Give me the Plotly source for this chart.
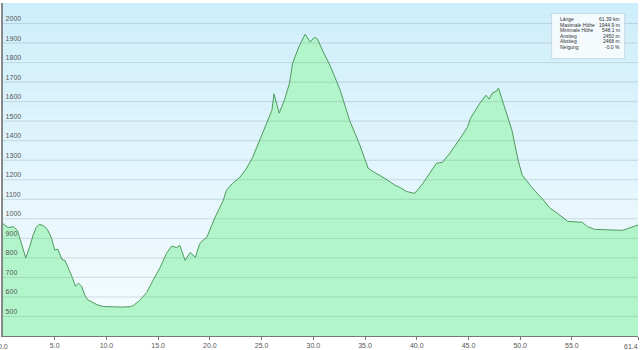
import plotly.graph_objects as go

# distance (km) and elevation (m)
km = [0.0, 0.5, 1.0, 1.4, 1.8, 2.2, 2.6, 2.9, 3.2, 3.5, 3.9, 4.3, 4.7, 5.0, 5.3, 5.7, 6.0, 6.4, 6.7,
      7.0, 7.3, 7.6, 7.9, 8.2, 8.6, 9.1, 9.7, 10.5, 11.5, 12.3, 12.6, 13.2, 13.9, 14.5, 15.2, 15.8,
      16.3, 16.8, 17.1, 17.6, 18.1, 18.6, 19.0, 19.3, 19.7, 20.5, 21.3, 21.6, 22.2, 22.9, 23.5, 24.1,
      24.8, 25.5, 26.0, 26.2, 26.7, 27.2, 27.7, 28.0, 28.6, 29.2, 29.7, 30.1, 30.4, 31.0, 31.6, 32.6,
      33.5, 34.5, 35.3, 35.9, 36.4, 36.9, 37.9, 38.4, 39.0, 39.6, 39.8, 40.6, 41.3, 41.9, 42.5, 43.2,
      44.4, 44.9, 45.2, 46.1, 46.7, 47.0, 47.3, 47.7, 47.9, 48.5, 49.2, 49.8, 50.2, 50.6, 51.2, 52.1,
      52.9, 53.6, 54.6, 56.0, 56.5, 57.2, 59.9, 61.39]
elev = [975, 955, 960, 940, 870, 800, 860, 915, 955, 972, 965, 945, 900, 840, 845, 792, 787, 740, 700,
        655, 670, 655, 610, 585, 572, 560, 551, 549, 548, 550, 556, 582, 623, 685, 752, 823,
        860, 853, 864, 787, 828, 803, 870, 889, 905, 1008, 1095, 1146, 1182, 1213, 1255, 1310,
        1402, 1495, 1556, 1640, 1541, 1607, 1695, 1797, 1880, 1945, 1905, 1930, 1920, 1850, 1787, 1659,
        1505, 1377, 1259, 1238, 1223, 1208, 1172, 1160, 1140, 1130, 1130, 1182, 1240, 1284, 1290, 1336,
        1428, 1469, 1515, 1592, 1633, 1613, 1643, 1654, 1669, 1572, 1454, 1300, 1223, 1197, 1156, 1105,
        1054, 1028, 987, 982, 960, 946, 941, 968]

y_ticks = [500, 600, 700, 800, 900, 1000, 1100, 1200, 1300, 1400, 1500, 1600, 1700, 1800, 1900, 2000]
x_ticks = [0, 5, 10, 15, 20, 25, 30, 35, 40, 45, 50, 55, 61.39]
x_labels = ["0.0", "5.0", "10.0", "15.0", "20.0", "25.0", "30.0", "35.0", "40.0", "45.0", "50.0", "55.0", "61.4"]

stat_names = ["Länge", "Maximale Höhe", "Minimale Höhe", "Anstieg", "Abstieg", "Neigung"]
stat_values = ["61.39 km", "1944.9 m", "548.1 m", "2450 m", "2468 m", "-0.0 %"]

fig = go.Figure()
fig.add_trace(go.Scatter(
    x=km, y=elev, mode="lines", fill="tozeroy",
    line=dict(color="#4f9a5e", width=1),
    fillcolor="#b3f5cb", hoverinfo="skip", showlegend=False,
))

shapes = []
# background vertical gradient
n = 40
top = (206, 238, 251)
bot = (246, 252, 254)
for i in range(n):
    t = i / (n - 1)
    c = tuple(int(round(top[k] + (bot[k] - top[k]) * t)) for k in range(3))
    shapes.append(dict(type="rect", xref="paper", yref="paper", x0=0, x1=1,
                       y0=1 - (i + 1) / n, y1=1 - i / n, line=dict(width=0),
                       fillcolor="rgb(%d,%d,%d)" % c, layer="below"))
# gridlines above the area
for v in y_ticks:
    shapes.append(dict(type="line", xref="paper", yref="y", x0=0, x1=1, y0=v, y1=v,
                       line=dict(color="rgba(90,120,130,0.22)", width=1), layer="above"))
# stats box
shapes.append(dict(type="rect", xref="paper", yref="paper", x0=0.864, x1=0.979, y0=0.833, y1=0.968,
                   line=dict(color="rgba(200,215,225,0.9)", width=1),
                   fillcolor="rgba(250,252,253,0.85)", layer="above"))

annotations = []
row_y = [0.951, 0.934, 0.918, 0.901, 0.885, 0.868]
for name, val, yy in zip(stat_names, stat_values, row_y):
    annotations.append(dict(xref="paper", yref="paper", x=0.874, y=yy, text=name, showarrow=False,
                            xanchor="left", yanchor="middle", font=dict(size=5, color="#333")))
    annotations.append(dict(xref="paper", yref="paper", x=0.975, y=yy, text=val, showarrow=False,
                            xanchor="right", yanchor="middle", font=dict(size=5, color="#333")))

# end tick labels drawn as annotations so they are placed like the reference
tick_text_main = [""] + x_labels[1:-1] + [""]
annotations.append(dict(xref="x", yref="paper", x=x_ticks[0], y=0, yshift=-5, text=x_labels[0],
                        showarrow=False, xanchor="center", yanchor="top",
                        font=dict(size=7, color="#555")))
annotations.append(dict(xref="x", yref="paper", x=x_ticks[-1], y=0, yshift=-5, xshift=2,
                        text=x_labels[-1], showarrow=False, xanchor="right", yanchor="top",
                        font=dict(size=7, color="#555")))

fig.update_layout(
    width=640, height=350,
    margin=dict(l=3, r=2, t=3, b=14),
    paper_bgcolor="white", plot_bgcolor="#f6fcfe",
    font=dict(family="Liberation Sans", size=7, color="#555"),
    shapes=shapes, annotations=annotations,
    xaxis=dict(range=[0, 61.39], tickvals=x_ticks, ticktext=tick_text_main, showgrid=False,
               zeroline=False, showline=True, linecolor="#777", linewidth=1, automargin=False,
               ticks="outside", ticklen=3, tickcolor="#777",
               tickfont=dict(size=7, color="#555")),
    yaxis=dict(range=[400, 2105], tickvals=y_ticks, showgrid=False, zeroline=False, automargin=False,
               showline=True, linecolor="#888", linewidth=2, ticks="",
               ticklabelposition="inside top", tickfont=dict(size=7, color="#555")),
)

fig.write_html("out.html")
